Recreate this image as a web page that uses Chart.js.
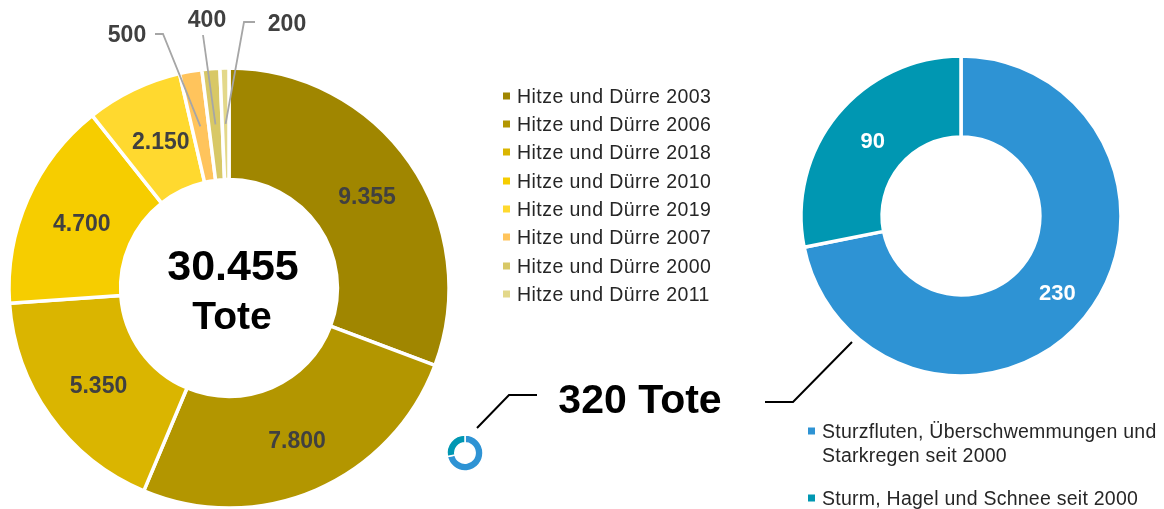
<!DOCTYPE html>
<html><head><meta charset="utf-8">
<script src="https://cdn.jsdelivr.net/npm/chart.js@4"></script>
<style>
html,body{margin:0;padding:0;background:#fff;width:1164px;height:509px;overflow:hidden}
#stage{position:relative;width:1164px;height:509px;overflow:hidden;font-family:"Liberation Sans",sans-serif}
canvas{position:absolute}
.t{position:absolute;white-space:nowrap;line-height:1}
.big{font-weight:700;color:#000;transform:translate(-50%,-50%)}
.lg{position:absolute;color:#262626;font-size:19.5px;line-height:24px;letter-spacing:.45px;transform:translateY(-50%);white-space:nowrap}
.sq{position:absolute;width:7px;height:7px;transform:translateY(-50%)}
svg{position:absolute;left:0;top:0}
</style></head><body>
<div id="stage">
<canvas id="heat" width="458" height="576" style="left:0;top:0;width:458px;height:576px"></canvas>
<canvas id="storm" width="340" height="340" style="left:791px;top:46px;width:340px;height:340px"></canvas>
<canvas id="mini" width="44" height="44" style="left:443px;top:431px;width:44px;height:44px"></canvas>
<svg width="1164" height="509"><polyline points="477,428 509,395 537,395" fill="none" stroke="#000" stroke-width="2"/><polyline points="765,402 793,402 852,342" fill="none" stroke="#000" stroke-width="2"/></svg>
<div class="t big" style="left:233px;top:265px;font-size:43px">30.455</div>
<div class="t big" style="left:232px;top:315px;font-size:39px">Tote</div>
<div class="t big" style="left:640px;top:399px;font-size:41px">320 Tote</div>
</div>
<script>
const heatLabels = ["Hitze und Dürre 2003","Hitze und Dürre 2006","Hitze und Dürre 2018","Hitze und Dürre 2010","Hitze und Dürre 2019","Hitze und Dürre 2007","Hitze und Dürre 2000","Hitze und Dürre 2011"];
const heatValues = [9355,7800,5350,4700,2150,500,400,200];
const heatText = ["9.355","7.800","5.350","4.700","2.150","500","400","200"];
const heatColors = ["#A08600","#B39600","#DAB500","#F6CD00","#FFD92F","#FFC45C","#D8C866","#E3D88A"];
const stormLabels = ["Sturzfluten, Überschwemmungen und<br>Starkregen seit 2000","Sturm, Hagel und Schnee seit 2000"];
const stormValues = [230,90];
const stormColors = ["#2E93D4","#0097B2"];

Chart.defaults.animation = false;
Chart.defaults.responsive = false;
const F = '"Liberation Sans",sans-serif';
const baseOpts = (r,c)=>({responsive:false,animation:false,events:[],radius:r,cutout:c,layout:{padding:0},plugins:{legend:{display:false},tooltip:{enabled:false}}});

// elbow and text anchor of the callout labels
const callouts = {5:{elbow:[163,34],end:[155,34],text:[127,36]},6:{elbow:[203,35],end:[203,35],text:[207,21]},7:{elbow:[244,22],end:[255,22],text:[287,25]}};

new Chart(document.getElementById('heat'),{type:'doughnut',
 data:{labels:heatLabels,datasets:[{data:heatValues,backgroundColor:heatColors,borderColor:'#fff',borderWidth:3.5}]},
 options:baseOpts(220,112),
 plugins:[{id:'lbl',afterDraw(ch){
  const ctx=ch.ctx,arcs=ch.getDatasetMeta(0).data;
  ctx.save();ctx.textAlign='center';ctx.textBaseline='middle';
  arcs.forEach((a,i)=>{
   const p=a.getCenterPoint();
   const co=callouts[i];
   ctx.fillStyle='#404040';ctx.font='700 23px '+F;
   if(co){
    ctx.strokeStyle='#A6A6A6';ctx.lineWidth=1.8;
    ctx.beginPath();ctx.moveTo(p.x,p.y);ctx.lineTo(co.elbow[0],co.elbow[1]);ctx.lineTo(co.end[0],co.end[1]);ctx.stroke();
    ctx.fillText(heatText[i],co.text[0],co.text[1]);
   } else {
    ctx.fillText(heatText[i],p.x+3,p.y+3);
   }
  });
  ctx.restore();
 }}]});

new Chart(document.getElementById('storm'),{type:'doughnut',
 data:{labels:stormLabels,datasets:[{data:stormValues,backgroundColor:stormColors,borderColor:'#fff',borderWidth:3.5}]},
 options:baseOpts(160,83),
 plugins:[{id:'lbl2',afterDraw(ch){
  const ctx=ch.ctx;ctx.save();ctx.textAlign='center';ctx.textBaseline='middle';ctx.fillStyle='#fff';ctx.font='700 22px '+F;
  ch.getDatasetMeta(0).data.forEach((a,i)=>{const p=a.getCenterPoint();ctx.fillText(String(stormValues[i]),p.x+4,p.y+2);});
  ctx.restore();
 }}]});

new Chart(document.getElementById('mini'),{type:'doughnut',
 data:{labels:stormLabels,datasets:[{data:stormValues,backgroundColor:stormColors,borderColor:'#fff',borderWidth:1.5}]},
 options:baseOpts(18,12)});

// legends
const stage=document.getElementById('stage');
const add=(cls,txt,st)=>{const d=document.createElement('div');d.className=cls;if(txt)d.innerHTML=txt;Object.assign(d.style,st);stage.appendChild(d);};
heatLabels.forEach((t,i)=>{const y=(95.5+i*28.35)+'px';
 add('sq','',{left:'503px',top:y,background:heatColors[i]});
 add('lg',t,{left:'517px',top:y});});
[[430.5,443],[498,498]].forEach(([sy,ty],i)=>{
 add('sq','',{left:'808px',top:sy+'px',background:stormColors[i]});
 add('lg',stormLabels[i],{left:'822px',top:ty+'px',letterSpacing:'.25px'});});
</script>
</body></html>
